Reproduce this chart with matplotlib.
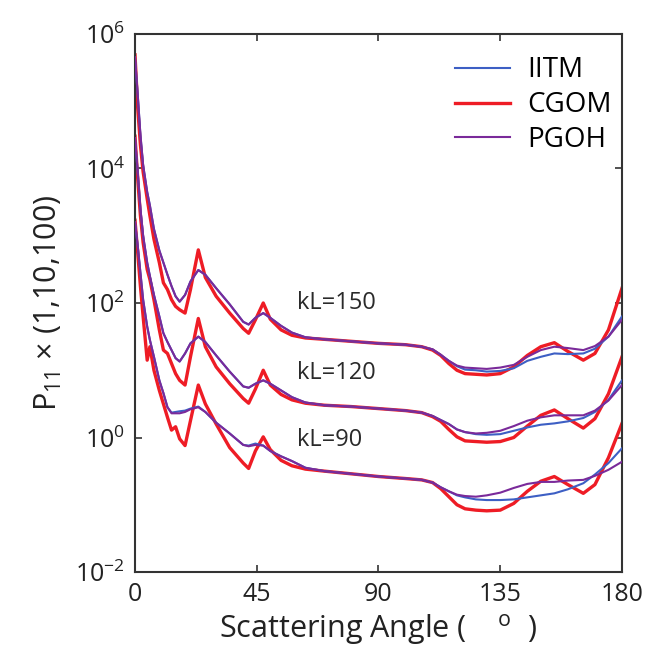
import numpy as np
import matplotlib
matplotlib.use("Agg")
import matplotlib.pyplot as plt

plt.rcParams['font.family'] = ['Open Sans', 'DejaVu Sans']
plt.rcParams['mathtext.fontset'] = 'custom'
plt.rcParams['mathtext.rm'] = 'Open Sans'
plt.rcParams['mathtext.it'] = 'Open Sans'

# scattering angle grid (deg), shared by all curves
angle = [0, 1, 2, 3, 4.5, 5.5, 7, 9, 10.5, 12, 13.5, 15, 16.5, 18.5, 20.5, 23.4,
         26, 30, 35, 40, 42, 44.5, 47.4, 50, 54, 58, 63, 70, 80, 90, 100, 106,
         110, 113, 116, 119, 122, 126, 130, 135, 140, 145, 150, 155, 160, 165.7,
         170, 175, 180]

# log10(P11 x factor)
# kL=150 (x100)
iitm_150 = [5.65, 5.1, 4.5, 4.05, 3.65, 3.45, 3.1, 2.78, 2.6, 2.42, 2.25, 2.1, 2.02, 2.12, 2.32, 2.49,
            2.42, 2.22, 1.98, 1.72, 1.68, 1.78, 1.85, 1.78, 1.66, 1.56, 1.49, 1.46, 1.43, 1.40, 1.38, 1.35,
            1.31, 1.23, 1.14, 1.06, 1.01, 1.0, 0.98, 0.99, 1.03, 1.14, 1.2, 1.25, 1.24, 1.25,
            1.32, 1.5, 1.8]
cgom_150 = [5.69, 4.9, 4.35, 3.95, 3.55, 3.3, 2.95, 2.6, 2.3, 2.2, 2.05, 1.95, 1.9, 1.85, 2.2, 2.79,
            2.38, 2.1, 1.85, 1.62, 1.55, 1.75, 2.0, 1.76, 1.6, 1.52, 1.48, 1.46, 1.43, 1.40, 1.38, 1.35,
            1.30, 1.22, 1.1, 1.0, 0.95, 0.94, 0.93, 0.95, 1.05, 1.22, 1.35, 1.41, 1.28, 1.15,
            1.25, 1.6, 2.22]
pgoh_150 = [5.65, 5.1, 4.5, 4.05, 3.65, 3.45, 3.1, 2.78, 2.6, 2.42, 2.25, 2.1, 2.02, 2.12, 2.32, 2.49,
            2.42, 2.22, 1.98, 1.72, 1.68, 1.78, 1.85, 1.78, 1.66, 1.56, 1.49, 1.46, 1.43, 1.40, 1.38, 1.35,
            1.31, 1.23, 1.14, 1.07, 1.04, 1.03, 1.02, 1.04, 1.08, 1.2, 1.3, 1.35, 1.33, 1.30,
            1.36, 1.5, 1.75]

# kL=120 (x10)
iitm_120 = [4.45, 3.95, 3.4, 3.0, 2.6, 2.4, 2.12, 1.8, 1.55, 1.42, 1.3, 1.18, 1.13, 1.25, 1.4, 1.5,
            1.42, 1.22, 0.98, 0.76, 0.74, 0.8, 0.85, 0.8, 0.7, 0.6, 0.52, 0.48, 0.46, 0.43, 0.40, 0.37,
            0.32, 0.26, 0.2, 0.12, 0.08, 0.05, 0.04, 0.05, 0.1, 0.15, 0.19, 0.21, 0.24, 0.29,
            0.38, 0.56, 0.85]
cgom_120 = [4.48, 3.85, 3.3, 2.9, 2.5, 2.35, 2.05, 1.6, 1.3, 1.25, 1.1, 0.95, 0.85, 0.78, 1.2, 1.77,
            1.35, 1.05, 0.8, 0.58, 0.51, 0.72, 1.0, 0.78, 0.64, 0.56, 0.51, 0.48, 0.46, 0.43, 0.40, 0.37,
            0.31, 0.24, 0.12, 0.01, -0.05, -0.06, -0.07, -0.06, 0.0, 0.17, 0.33, 0.41, 0.28, 0.14,
            0.28, 0.65, 1.2]
pgoh_120 = [4.45, 3.95, 3.4, 3.0, 2.6, 2.4, 2.12, 1.8, 1.55, 1.42, 1.3, 1.18, 1.13, 1.25, 1.4, 1.5,
            1.42, 1.22, 0.98, 0.76, 0.74, 0.8, 0.85, 0.8, 0.7, 0.6, 0.52, 0.48, 0.46, 0.43, 0.40, 0.37,
            0.32, 0.26, 0.2, 0.12, 0.08, 0.06, 0.07, 0.1, 0.17, 0.25, 0.30, 0.33, 0.33, 0.33,
            0.4, 0.55, 0.78]

# kL=90 (x1)
iitm_90 = [3.2, 2.85, 2.45, 2.05, 1.65, 1.45, 1.2, 0.85, 0.66, 0.45, 0.37, 0.38, 0.39, 0.4, 0.43, 0.46,
           0.38, 0.22, 0.06, -0.11, -0.12, -0.09, -0.12, -0.2, -0.28, -0.35, -0.45, -0.5, -0.54, -0.58, -0.61, -0.63,
           -0.67, -0.74, -0.8, -0.86, -0.89, -0.92, -0.93, -0.93, -0.92, -0.89, -0.86, -0.83, -0.77, -0.68,
           -0.55, -0.38, -0.16]
cgom_90 = [3.23, 2.75, 2.25, 1.8, 1.15, 1.35, 1.0, 0.7, 0.5, 0.3, 0.11, 0.16, -0.02, -0.12, 0.25, 0.78,
           0.5, 0.2, -0.15, -0.38, -0.46, -0.2, 0.01, -0.18, -0.34, -0.42, -0.47, -0.5, -0.54, -0.58, -0.61, -0.63,
           -0.67, -0.76, -0.88, -1.0, -1.06, -1.08, -1.09, -1.08, -0.98, -0.8, -0.65, -0.58, -0.7, -0.83,
           -0.7, -0.3, 0.21]
pgoh_90 = [3.2, 2.85, 2.45, 2.05, 1.65, 1.45, 1.2, 0.85, 0.66, 0.45, 0.36, 0.36, 0.36, 0.38, 0.42, 0.45,
           0.38, 0.22, 0.06, -0.11, -0.13, -0.11, -0.12, -0.2, -0.28, -0.35, -0.45, -0.5, -0.54, -0.58, -0.61, -0.63,
           -0.67, -0.74, -0.8, -0.85, -0.87, -0.88, -0.86, -0.82, -0.75, -0.69, -0.66, -0.66, -0.64, -0.63,
           -0.57, -0.48, -0.36]

labels = ["kL=150", "kL=120", "kL=90"]
label_y = [1e2, 9.1, 0.91]

c_iitm = "#3d5fc4"
c_cgom = "#ee1c25"
c_pgoh = "#7a2a9a"

fig = plt.figure(figsize=(6.5, 6.6), dpi=100)
ax = fig.add_axes([0.2077, 0.1333, 0.7492, 0.8152])

groups = [(iitm_150, cgom_150, pgoh_150), (iitm_120, cgom_120, pgoh_120), (iitm_90, cgom_90, pgoh_90)]
for i, (b, r, p) in enumerate(groups):
    ax.plot(angle, 10**np.array(r), color=c_cgom, lw=2.4, label="CGOM" if i == 0 else None, zorder=2)
    ax.plot(angle, 10**np.array(b), color=c_iitm, lw=1.5, label="IITM" if i == 0 else None, zorder=3)
    ax.plot(angle, 10**np.array(p), color=c_pgoh, lw=1.5, label="PGOH" if i == 0 else None, zorder=4)

for lab, yy in zip(labels, label_y):
    ax.text(60, yy, lab, fontsize=17, color="#2a2a2a", va="center", ha="left")

ax.set_yscale("log")
ax.set_xlim(0, 180)
ax.set_ylim(1e-2, 1e6)
ax.set_xticks([0, 45, 90, 135, 180])
ax.set_yticks([1e-2, 1e0, 1e2, 1e4, 1e6])
ax.set_yticklabels(["$10^{-2}$", "$10^{0}$", "$10^{2}$", "$10^{4}$", "$10^{6}$"])
ax.yaxis.set_minor_locator(matplotlib.ticker.NullLocator())
ax.tick_params(direction="in", top=True, right=True, length=5, width=1.2,
               labelsize=18, colors="#333333", labelcolor="#222222", pad=7)
for s in ax.spines.values():
    s.set_color("#333333")
    s.set_linewidth(1.5)

ax.set_xlabel("Scattering Angle (    $^{\\rm o}$  )", fontsize=22, color="#222222", labelpad=4)
ax.set_ylabel("P$_{11}$ $\\times$ (1,10,100)", fontsize=22, color="#222222", labelpad=8)

handles, labs = ax.get_legend_handles_labels()
order = [labs.index(n) for n in ["IITM", "CGOM", "PGOH"]]
ax.legend([handles[k] for k in order], [labs[k] for k in order], loc="upper right",
          frameon=False, fontsize=20, handlelength=2.0, handletextpad=0.6, labelspacing=0.25,
          bbox_to_anchor=(1.03, 1.005))

fig.savefig("out.png", dpi=100)
